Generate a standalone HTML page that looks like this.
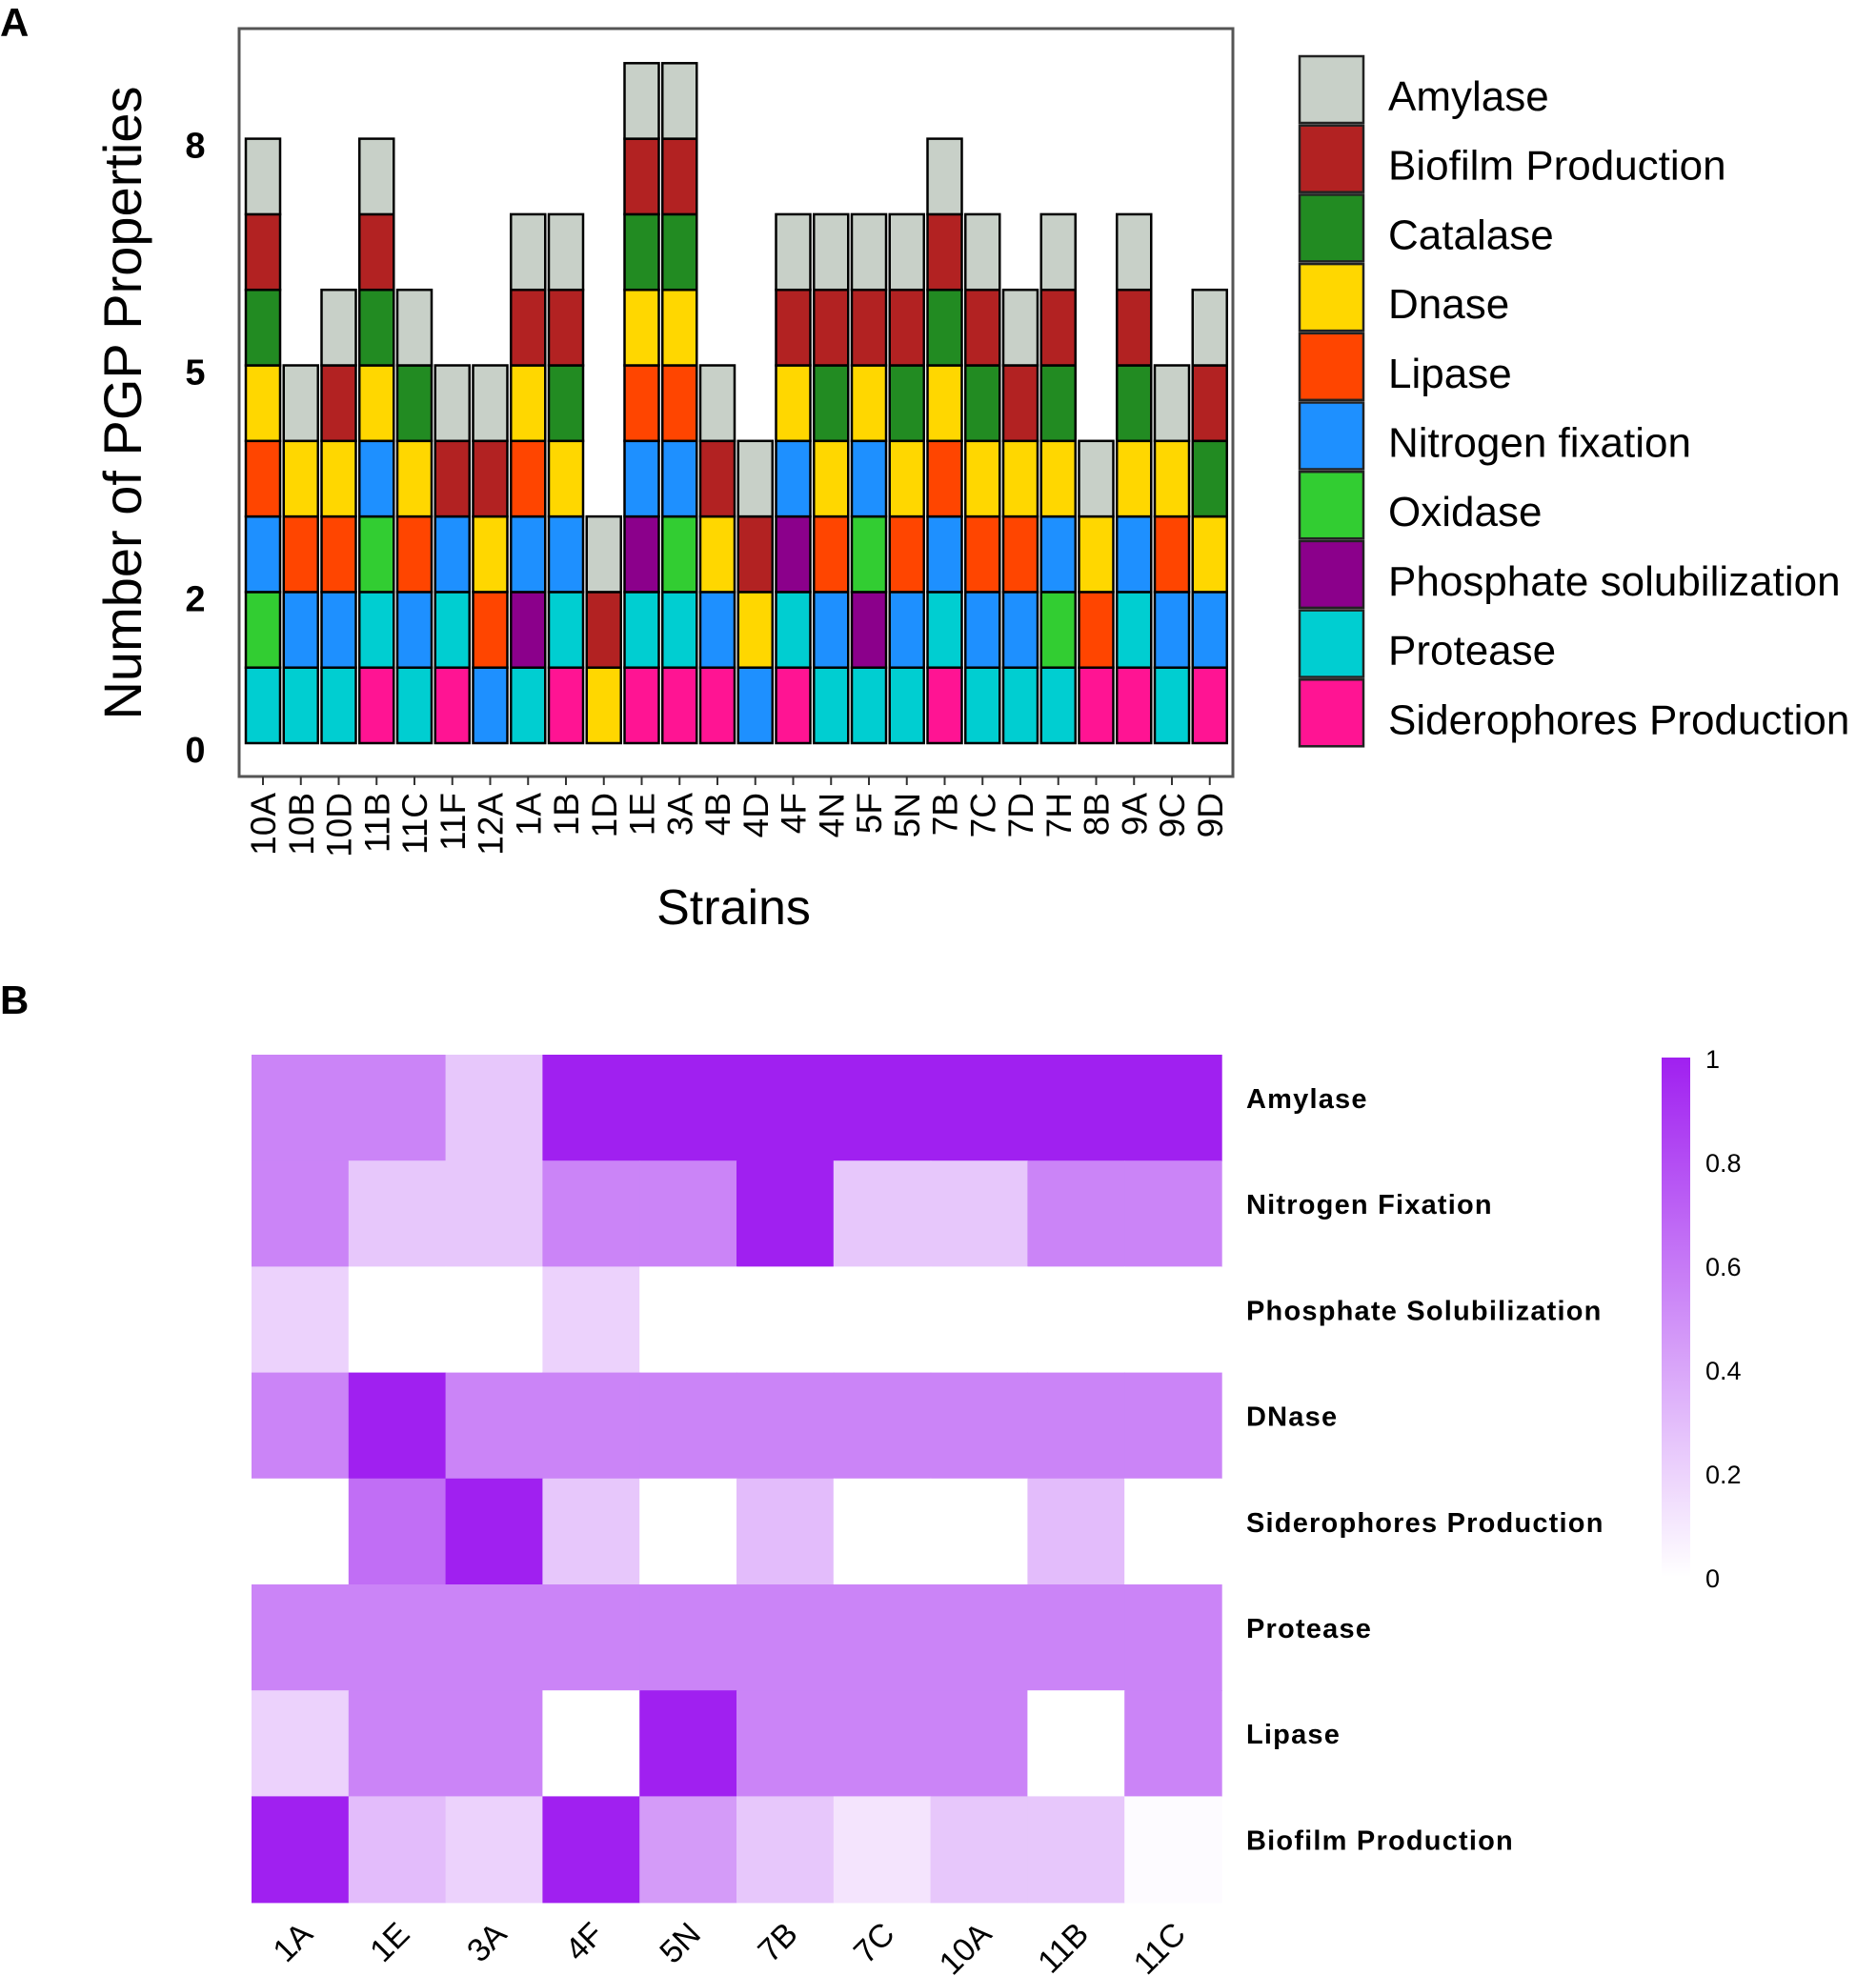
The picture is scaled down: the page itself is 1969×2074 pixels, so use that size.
<!DOCTYPE html>
<html><head><meta charset="utf-8"><style>
body{margin:0;background:#fff;}
svg{display:block;font-family:"Liberation Sans",sans-serif;}
</style></head><body>
<svg id="fig" width="1969" height="2074" viewBox="0 0 1969 2074">
<text x="0" y="38" font-size="42" font-weight="bold">A</text>
<text x="0" y="1064" font-size="42" font-weight="bold">B</text>
<rect x="251" y="30" width="1043" height="785" fill="none" stroke="#555" stroke-width="3"/>
<g id="bars"></g>
<g id="legend"></g>
<text transform="translate(148,423) rotate(-90)" text-anchor="middle" font-size="56">Number of PGP Properties</text>
<text x="770" y="970" text-anchor="middle" font-size="52">Strains</text>
<g id="heat"></g>
</svg>
<script>
const strains=["10A","10B","10D","11B","11C","11F","12A","1A","1B","1D","1E","3A","4B","4D","4F","4N","5F","5N","7B","7C","7D","7H","8B","9A","9C","9D"];
const stacks=[
"Pr Ox N L D C B A","Pr N L D A","Pr N L D B A","S Pr Ox N D C B A","Pr N L D C A","S Pr N B A","N L D B A","Pr Ph N L D B A","S Pr N D C B A","D B A","S Pr Ph N L D C B A","S Pr Ox N L D C B A","S N D B A","N D B A","S Pr Ph N D B A","Pr N L D C B A","Pr Ph Ox N D B A","Pr N L D C B A","S Pr N L D C B A","Pr N L D C B A","Pr N L D B A","Pr Ox N D C B A","S L D A","S Pr N D C B A","Pr N L D A","S N D C B A"];
const propKeys=["A","B","C","D","L","N","Ox","Ph","Pr","S"];
const propNames=["Amylase","Biofilm Production","Catalase","Dnase","Lipase","Nitrogen fixation","Oxidase","Phosphate solubilization","Protease","Siderophores Production"];
const propColors=["#c8d0c8","#b22222","#228b22","#ffd700","#ff4500","#1e90ff","#32cd32","#8b008b","#00ced1","#ff1493"];
const yTicks=[0,2,5,8];
const hmCols=["1A","1E","3A","4F","5N","7B","7C","10A","11B","11C"];
const hmRows=["Amylase","Nitrogen Fixation","Phosphate Solubilization","DNase","Siderophores Production","Protease","Lipase","Biofilm Production"];
const hmAmylase=[0.55,0.55,0.25,1,1,1,1,1,1,1];
const hmNitrogen=[0.55,0.25,0.25,0.55,0.55,1,0.25,0.25,0.55,0.55];
const hmPhosphate=[0.2,0,0,0.2,0,0,0,0,0,0];
const hmDNase=[0.55,1,0.55,0.55,0.55,0.55,0.55,0.55,0.55,0.55];
const hmSidero=[0,0.65,1,0.25,0,0.3,0,0,0.3,0];
const hmProtease=[0.55,0.55,0.55,0.55,0.55,0.55,0.55,0.55,0.55,0.55];
const hmLipase=[0.2,0.55,0.55,0,1,0.55,0.55,0.55,0,0.55];
const hmBiofilm=[1,0.3,0.2,1,0.45,0.25,0.12,0.25,0.25,0.02];
const cbTicks=["0","0.2","0.4","0.6","0.8","1"];
const hmData=[hmAmylase,hmNitrogen,hmPhosphate,hmDNase,hmSidero,hmProtease,hmLipase,hmBiofilm];

const NS="http://www.w3.org/2000/svg";
function mk(t,a,p){const e=document.createElementNS(NS,t);for(const k in a)e.setAttribute(k,a[k]);p.appendChild(e);return e;}
const yS=v=>780-v*79.3;
const xS=i=>276+i*39.75;
const bars=document.getElementById('bars');
yTicks.forEach(v=>{
 const t=mk('text',{x:205,y:yS(v)+20,'text-anchor':'middle','font-size':38,'font-weight':'bold'},bars);
 
 
 t.textContent=v;
});
strains.forEach((s,i)=>{
 const keys=stacks[i].split(' ');
 keys.forEach((k,j)=>{
  const r=mk('rect',{x:xS(i)-18,y:yS(j+1),width:36,height:79.3,fill:propColors[propKeys.indexOf(k)],stroke:'#000','stroke-width':2.5},bars);
  
  
 });
 mk('line',{x1:xS(i),x2:xS(i),y1:815,y2:824,stroke:'#333','stroke-width':2},bars);
 const t=mk('text',{transform:`translate(${xS(i)+13},832) rotate(-90)`,'text-anchor':'end','font-size':37},bars);
 
 
 t.textContent=s;
});
const leg=document.getElementById('legend');
propNames.forEach((n,i)=>{
 const y=59+i*72.7;
 const r=mk('rect',{x:1364,y:y,width:67,height:70,fill:propColors[i],stroke:'#222','stroke-width':2.5},leg);
 
 
 const t=mk('text',{x:1457,y:y+57,'font-size':44},leg);
 
 
 t.textContent=n;
});
const heat=document.getElementById('heat');
function col(v){const r=Math.round(255-95*v),g=Math.round(255-223*v),b=Math.round(255-15*v);return `rgb(${r},${g},${b})`;}
const hx=j=>264+j*101.8, hy=i=>1107+i*111.2;
hmData.forEach((row,i)=>{
 row.forEach((v,j)=>{
  const r=mk('rect',{x:hx(j),y:hy(i),width:102.5,height:112,fill:col(v)},heat);
  
  
 });
 const t=mk('text',{x:1308,y:hy(i)+56,'font-size':29,'font-weight':'bold','letter-spacing':'1.2'},heat);
 
 
 t.textContent=hmRows[i];
});
hmCols.forEach((c,j)=>{
 const t=mk('text',{transform:`translate(${hx(j)+66},2032) rotate(-45)`,'text-anchor':'end','font-size':34},heat);
 
 
 t.textContent=c;
});
const defs=mk('defs',{},heat);
const lg=mk('linearGradient',{id:'cb',x1:0,y1:1,x2:0,y2:0},defs);
mk('stop',{offset:0,'stop-color':col(0)},lg);mk('stop',{offset:1,'stop-color':col(1)},lg);
const cb=mk('rect',{x:1744,y:1110,width:30,height:545,fill:'url(#cb)'},heat);


cbTicks.forEach((s,k)=>{
 const t=mk('text',{x:1790,y:1666-k*109,'font-size':27},heat);
 
 
 t.textContent=s;
});
</script>
</body></html>
